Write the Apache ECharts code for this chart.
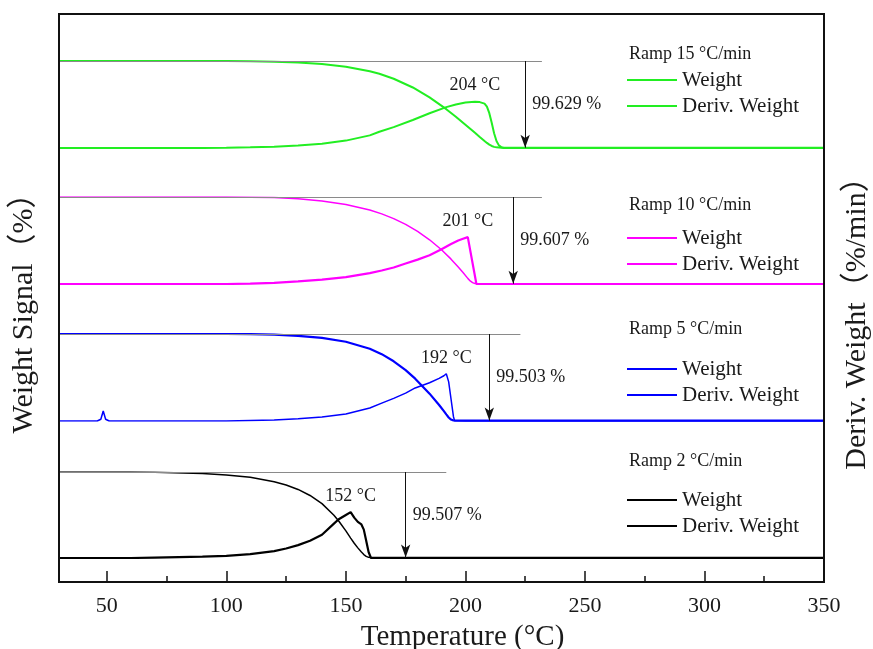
<!DOCTYPE html>
<html>
<head>
<meta charset="utf-8">
<script src="https://cdn.jsdelivr.net/npm/echarts@6/dist/echarts.min.js"></script>
<style>
  html, body { margin: 0; padding: 0; background: #fff; }
  #chart { width: 873px; height: 649px; }
</style>
</head>
<body>
<div id="chart"></div>
<script>
// Heating rates (°C/min), one stacked panel per rate, top to bottom
const ramps = [15, 10, 5, 2];
// Total weight loss (%) of each run
const weightLoss = [99.629, 99.607, 99.503, 99.507];
// Temperature where the weight-loss arrow is drawn (°C)
const lossTemps = [225, 220, 210, 175];
// End temperature of the grey 100 % reference line (°C)
const refLineEnds = [232, 232, 223, 192];
// Axis ticks
const xTicks = [50, 100, 150, 200, 250, 300, 350];
const xMinorTicks = [75, 125, 175, 225, 275, 325];

// Ramp 15 °C/min: weight (%) and derivative weight (%/min)
const tempW15 = [30, 90, 100, 110, 120, 130, 140, 150, 160, 164, 170, 178, 185, 192, 196, 200, 204, 206, 208, 209, 210, 211, 212, 213, 214, 215, 216, 230, 350];
const weight15 = [100, 100, 99.93, 99.69, 99.17, 98.21, 96.47, 93.45, 88.31, 85.34, 79.61, 69.56, 58.26, 44.64, 35.96, 26.83, 17.40, 12.66, 8.02, 5.82, 3.86, 2.32, 1.29, 0.73, 0.48, 0.39, 0.371, 0.371, 0.371];
const tempD15 = [30, 90, 100, 110, 120, 130, 140, 150, 160, 164, 170, 178, 185, 192, 196, 200, 204, 206, 208, 209, 210, 211, 212, 213, 214, 215, 216, 230, 350];
const deriv15 = [0, 0, 0.05, 0.14, 0.27, 0.5, 0.9, 1.53, 2.61, 3.37, 4.32, 5.8, 7.2, 8.46, 9.0, 9.4, 9.58, 9.5, 9.18, 8.55, 7.2, 5.22, 3.06, 1.44, 0.54, 0.18, 0, 0, 0];

// Ramp 10 °C/min
const tempW10 = [30, 100, 110, 120, 130, 140, 150, 160, 165, 170, 175, 180, 185, 190, 194, 197, 199, 201, 202, 203, 204, 204.6, 210, 350];
const weight10 = [100, 100, 99.84, 99.31, 97.99, 95.48, 91.40, 84.96, 80.57, 75.15, 68.48, 60.40, 50.82, 39.36, 28.56, 19.52, 13.12, 6.47, 3.57, 1.59, 0.56, 0.393, 0.393, 0.393];
const tempD10 = [30, 100, 110, 120, 130, 140, 150, 160, 165, 170, 175, 180, 185, 190, 194, 197, 199, 201, 204.6, 210, 350];
const deriv10 = [0, 0, 0.07, 0.16, 0.39, 0.65, 1.04, 1.63, 2.02, 2.47, 3.06, 3.64, 4.29, 5.2, 5.98, 6.5, 6.76, 7.0, 0, 0, 0];

// Ramp 5 °C/min
const tempW5 = [30, 100, 110, 120, 130, 140, 150, 160, 165, 170, 175, 179, 185, 189, 191, 192, 193, 194, 195, 195.5, 200, 350];
const weight5 = [100, 100, 99.82, 99.23, 97.93, 95.48, 91.09, 83.03, 76.81, 68.66, 58.49, 48.67, 31.42, 18.38, 11.30, 7.58, 4.08, 1.62, 0.57, 0.497, 0.497, 0.497];
const tempD5 = [30, 46, 47.5, 48.5, 49.5, 51, 100, 110, 120, 130, 140, 150, 160, 165, 170, 175, 179, 185, 189, 191, 192, 193, 194, 195, 195.5, 200, 350];
const deriv5 = [0, 0, 0.14, 0.8, 0.14, 0, 0, 0.04, 0.08, 0.18, 0.32, 0.56, 1.05, 1.44, 1.82, 2.24, 2.66, 3.08, 3.43, 3.64, 3.8, 3.15, 1.75, 0.35, 0, 0, 0];

// Ramp 2 °C/min
const tempW2 = [30, 60, 70, 90, 100, 110, 120, 125, 130, 135, 140, 145, 147, 150, 152, 153.5, 155, 156.5, 157.5, 158.5, 159.5, 160.5, 165, 350];
const weight2 = [100, 100, 99.80, 98.19, 96.59, 93.77, 88.75, 84.93, 79.71, 72.68, 63.24, 49.78, 42.95, 31.50, 23.19, 17.13, 11.76, 6.88, 3.99, 1.86, 0.77, 0.493, 0.493, 0.493];
const tempD2 = [30, 60, 70, 90, 100, 110, 120, 125, 130, 135, 140, 145, 147, 150, 152, 153.5, 155, 156.5, 157.5, 158.5, 159.5, 160.5, 165, 350];
const deriv2 = [0, 0, 0.015, 0.045, 0.075, 0.135, 0.24, 0.33, 0.45, 0.6, 0.81, 1.2, 1.35, 1.5, 1.6, 1.41, 1.26, 1.17, 0.99, 0.6, 0.21, 0, 0, 0];

const runs = [
  { tw: tempW15, w: weight15, td: tempD15, d: deriv15 },
  { tw: tempW10, w: weight10, td: tempD10, d: deriv10 },
  { tw: tempW5, w: weight5, td: tempD5, d: deriv5 },
  { tw: tempW2, w: weight2, td: tempD2, d: deriv2 }
];

// Layout and styling of the stacked panels
const SERIF = '"Liberation Serif", "Times New Roman", serif';
const TITLE_FONT = '"Liberation Serif", "Noto Sans CJK SC", serif';
const INK = '#1a1a1a';
const colors = ['#22ee22', '#ff00ff', '#0000ff', '#000000'];
const weightWidths = [2, 1.5, 2.2, 1.5];
const derivWidths = [2, 2.2, 1.5, 2.2];
const panelTops = [61, 197, 334, 472];
const panelHeights = [87, 87, 87, 86];
const derivAxisMax = [18, 13, 7, 3];
const titleTops = [45, 196, 320, 452];
const legendTops = [69, 227, 358, 489];
const plotLeft = 59, plotRight = 49;

const zip = (xs, ys) => xs.map((x, k) => [x, ys[k]]);

const grid = [{
  left: plotLeft, right: plotRight, top: 14, bottom: 67, outerBoundsMode: 'none',
  show: true, borderColor: '#111', borderWidth: 2, z: 10
}];
const xAxis = [
  {
    gridIndex: 0, type: 'value', min: 30, max: 350, position: 'bottom',
    axisLine: { show: true, onZero: false, lineStyle: { color: '#111', width: 2 } },
    axisTick: { show: true, inside: true, length: 11, customValues: xTicks, lineStyle: { color: '#111', width: 1.5 } },
    axisLabel: { show: true, customValues: xTicks, margin: 13, fontSize: 22, fontFamily: SERIF, color: INK },
    splitLine: { show: false },
    name: 'Temperature (°C)', nameLocation: 'middle', nameGap: 41,
    nameTextStyle: { fontSize: 29, fontFamily: SERIF, color: INK, padding: [0, 0, 0, 42] }
  },
  {
    gridIndex: 0, type: 'value', min: 30, max: 350, position: 'bottom',
    axisLine: { show: false },
    axisTick: { show: true, inside: true, length: 6, customValues: xMinorTicks, lineStyle: { color: '#111', width: 1.5 } },
    axisLabel: { show: false }, splitLine: { show: false }
  }
];
const yAxis = [{ gridIndex: 0, type: 'value', min: 0, max: 1, show: false }];
const series = [];
const legend = [];
const title = [];

runs.forEach((run, i) => {
  const r = ramps[i];
  grid.push({ left: plotLeft, right: plotRight, top: panelTops[i], height: panelHeights[i], outerBoundsMode: 'none' });
  xAxis.push({ gridIndex: i + 1, type: 'value', min: 30, max: 350, show: false });
  const wIdx = yAxis.length;
  yAxis.push({ gridIndex: i + 1, type: 'value', min: 0, max: 100, show: false });
  const dIdx = yAxis.length;
  yAxis.push({ gridIndex: i + 1, type: 'value', min: 0, max: derivAxisMax[i], show: false });
  const xIdx = i + 2;
  const residue = +(100 - weightLoss[i]).toFixed(3);

  series.push({
    type: 'line', name: 'Weight ' + r, xAxisIndex: xIdx, yAxisIndex: wIdx,
    data: zip(run.tw, run.w), showSymbol: false, symbol: 'none', smooth: false,
    lineStyle: { color: colors[i], width: weightWidths[i] }, itemStyle: { color: colors[i] },
    z: 3, animation: false,
    // grey 100 % reference line and the weight-loss arrow
    markLine: {
      silent: true, animation: false, label: { show: false },
      data: [
        [
          { coord: [30, 100], symbol: 'none', lineStyle: { color: '#8a8a8a', width: 1, type: 'solid' } },
          { coord: [refLineEnds[i], 100], symbol: 'none' }
        ],
        [
          { coord: [lossTemps[i], 100], symbol: 'none', lineStyle: { color: '#111', width: 1, type: 'solid' }, itemStyle: { color: '#111' } },
          { coord: [lossTemps[i], residue], symbol: 'arrow', symbolSize: [7, 13], itemStyle: { color: '#111' } }
        ]
      ]
    }
  });
  series.push({
    type: 'line', name: 'Deriv. Weight ' + r, xAxisIndex: xIdx, yAxisIndex: dIdx,
    data: zip(run.td, run.d), showSymbol: false, symbol: 'none', smooth: false,
    lineStyle: { color: colors[i], width: derivWidths[i] }, itemStyle: { color: colors[i] },
    z: 3, animation: false
  });

  // peak temperature label, placed on the maximum of the derivative curve
  let pk = 0;
  run.d.forEach((v, k) => { if (v > run.d[pk]) pk = k; });
  series.push({
    type: 'scatter', xAxisIndex: xIdx, yAxisIndex: dIdx, silent: true, animation: false,
    symbolSize: 0, itemStyle: { color: INK, opacity: 1 },
    data: [[run.td[pk], run.d[pk]]],
    label: {
      show: true, position: 'top', distance: 7,
      formatter: p => p.value[0] + ' °C',
      fontSize: 18, fontFamily: SERIF, color: INK
    }
  });
  // weight-loss value beside the arrow
  series.push({
    type: 'scatter', xAxisIndex: xIdx, yAxisIndex: wIdx, silent: true, animation: false,
    symbolSize: 0, itemStyle: { color: INK, opacity: 1 },
    data: [[lossTemps[i], (100 + residue) / 2]],
    label: {
      show: true, position: 'right', distance: 7,
      formatter: () => weightLoss[i].toFixed(3) + ' %',
      fontSize: 18, fontFamily: SERIF, color: INK
    }
  });

  title.push({
    text: 'Ramp ' + r + ' °C/min', left: 629, top: titleTops[i], padding: 0,
    textStyle: { fontSize: 18, fontWeight: 'normal', fontFamily: SERIF, color: INK }
  });
  legend.push({
    data: ['Weight ' + r, 'Deriv. Weight ' + r],
    orient: 'vertical', left: 627, top: legendTops[i], padding: 0,
    icon: 'rect', itemWidth: 50, itemHeight: 2, itemGap: 4, selectedMode: false,
    formatter: n => n.replace(/ \d+$/, ''),
    textStyle: { fontSize: 21, lineHeight: 22, fontFamily: SERIF, color: INK }
  });
});

const chart = echarts.init(document.getElementById('chart'), null, { renderer: 'canvas' });
chart.setOption({
  animation: false,
  backgroundColor: '#fff',
  title, legend, grid, xAxis, yAxis, series,
  graphic: [
    {
      type: 'text', x: 24, y: 306, rotation: Math.PI / 2,
      style: { text: 'Weight Signal（%）', fontSize: 30, fontFamily: TITLE_FONT, fill: INK, align: 'center', verticalAlign: 'middle' }
    },
    {
      type: 'text', x: 857, y: 316, rotation: Math.PI / 2,
      style: { text: 'Deriv. Weight（%/min）', fontSize: 30, fontFamily: TITLE_FONT, fill: INK, align: 'center', verticalAlign: 'middle' }
    }
  ]
});
</script>
</body>
</html>
